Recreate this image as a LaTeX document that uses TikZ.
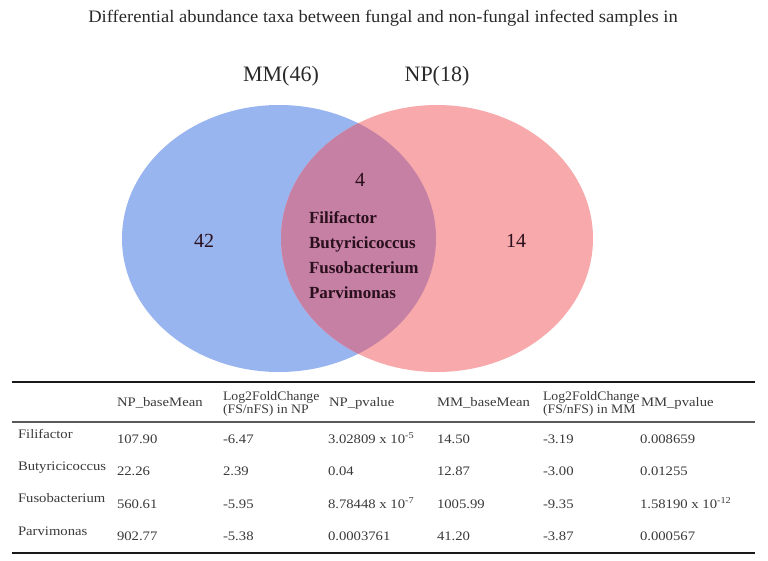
\documentclass[tikz,border=0pt]{standalone}
\usepackage{fontspec}
\setmainfont{Liberation Serif}
\newfontfamily\tabfont[FakeStretch=1.13]{Liberation Serif}
\newfontfamily\hfont[FakeStretch=1.06]{Liberation Serif}
\newfontfamily\titfont[FakeStretch=1.06]{Liberation Serif}
\definecolor{blueC}{HTML}{98B5F0}
\definecolor{pinkC}{HTML}{F7A9AB}
\definecolor{overC}{HTML}{C580A4}
\definecolor{txtC}{HTML}{2A2A2A}
\definecolor{tabC}{HTML}{3A3A3A}
\definecolor{taxC}{HTML}{2A0F1C}
\begin{document}
\begin{tikzpicture}[x=1pt,y=-1pt,
  every node/.style={inner sep=0pt,outer sep=0pt},
  title/.style={font=\titfont\fontsize{17.5}{20}\selectfont,text=txtC},
  setlab/.style={font=\fontsize{22}{26}\selectfont,text=txtC},
  count/.style={font=\fontsize{20}{24}\selectfont,text=taxC},
  taxa/.style={font=\bfseries\fontsize{17}{25}\selectfont,text=taxC,align=left},
  cell/.style={font=\tabfont\fontsize{13}{14}\selectfont,text=tabC,anchor=west,text height=9pt,text depth=3pt},
  hcell/.style={font=\hfont\fontsize{13}{14}\selectfont,text=tabC,anchor=west,align=left},
  thickrule/.style={line width=1.8pt,draw=black!90},
  midrule/.style={line width=1.4pt,draw=black!65}
]
\useasboundingbox (0,0) rectangle (768,561);
\fill[white] (0,0) rectangle (768,561);

% title
\node[title] (title) at (383,18) {Differential abundance taxa between fungal and non-fungal infected samples in};

% Venn
\fill[blueC] (279,238.5) ellipse [x radius=157, y radius=133.5];
\fill[pinkC] (437,238.5) ellipse [x radius=156, y radius=133.5];
\begin{scope}
  \clip (279,238.5) ellipse [x radius=157, y radius=133.5];
  \fill[overC] (437,238.5) ellipse [x radius=156, y radius=133.5];
\end{scope}

\node[setlab] (mm) at (281,76) {MM(46)};
\node[setlab] (np) at (437,76) {NP(18)};
\node[count] (n42) at (204,241) {42};
\node[count] (n14) at (516,241) {14};
\node[count] (n4) at (360,180) {4};
\node[taxa,anchor=north west] (tx) at (309,212) {Filifactor\\Butyricicoccus\\Fusobacterium\\Parvimonas};

% table rules
\coordinate (tl) at (12,382);
\coordinate (tr) at (755,382);
\coordinate (ml) at (12,422);
\coordinate (mr) at (755,422);
\coordinate (bl) at (12,553);
\coordinate (br) at (755,553);
\draw[thickrule] (tl) -- (tr);
\draw[midrule] (ml) -- (mr);
\draw[thickrule] (bl) -- (br);

% header
\node[cell] (h1) at (117,403) {NP\_baseMean};
\node[hcell] (h2) at (223,404) {Log2FoldChange\\[-1.5pt](FS/nFS) in NP};
\node[cell] (h3) at (329,403) {NP\_pvalue};
\node[cell] (h4) at (437,403) {MM\_baseMean};
\node[hcell] (h5) at (543,404) {Log2FoldChange\\[-1.5pt](FS/nFS) in MM};
\node[cell] (h6) at (641,403) {MM\_pvalue};

% rows
\node[cell] (r1) at (18,435) {Filifactor};
\node[cell] (r1a) at (117,440) {107.90};
\node[cell] (r1b) at (223,440) {-6.47};
\node[cell] (r1c) at (328,440) {3.02809 x 10\textsuperscript{-5}};
\node[cell] (r1d) at (437,440) {14.50};
\node[cell] (r1e) at (543,440) {-3.19};
\node[cell] (r1f) at (640,440) {0.008659};

\node[cell] (r2) at (18,467) {Butyricicoccus};
\node[cell] (r2a) at (117,472) {22.26};
\node[cell] (r2b) at (223,472) {2.39};
\node[cell] (r2c) at (328,472) {0.04};
\node[cell] (r2d) at (437,472) {12.87};
\node[cell] (r2e) at (543,472) {-3.00};
\node[cell] (r2f) at (640,472) {0.01255};

\node[cell] (r3) at (18,499) {Fusobacterium};
\node[cell] (r3a) at (117,505) {560.61};
\node[cell] (r3b) at (223,505) {-5.95};
\node[cell] (r3c) at (328,505) {8.78448 x 10\textsuperscript{-7}};
\node[cell] (r3d) at (437,505) {1005.99};
\node[cell] (r3e) at (543,505) {-9.35};
\node[cell] (r3f) at (640,505) {1.58190 x 10\textsuperscript{-12}};

\node[cell] (r4) at (18,532) {Parvimonas};
\node[cell] (r4a) at (117,537) {902.77};
\node[cell] (r4b) at (223,537) {-5.38};
\node[cell] (r4c) at (328,537) {0.0003761};
\node[cell] (r4d) at (437,537) {41.20};
\node[cell] (r4e) at (543,537) {-3.87};
\node[cell] (r4f) at (640,537) {0.000567};
\end{tikzpicture}
\end{document}
